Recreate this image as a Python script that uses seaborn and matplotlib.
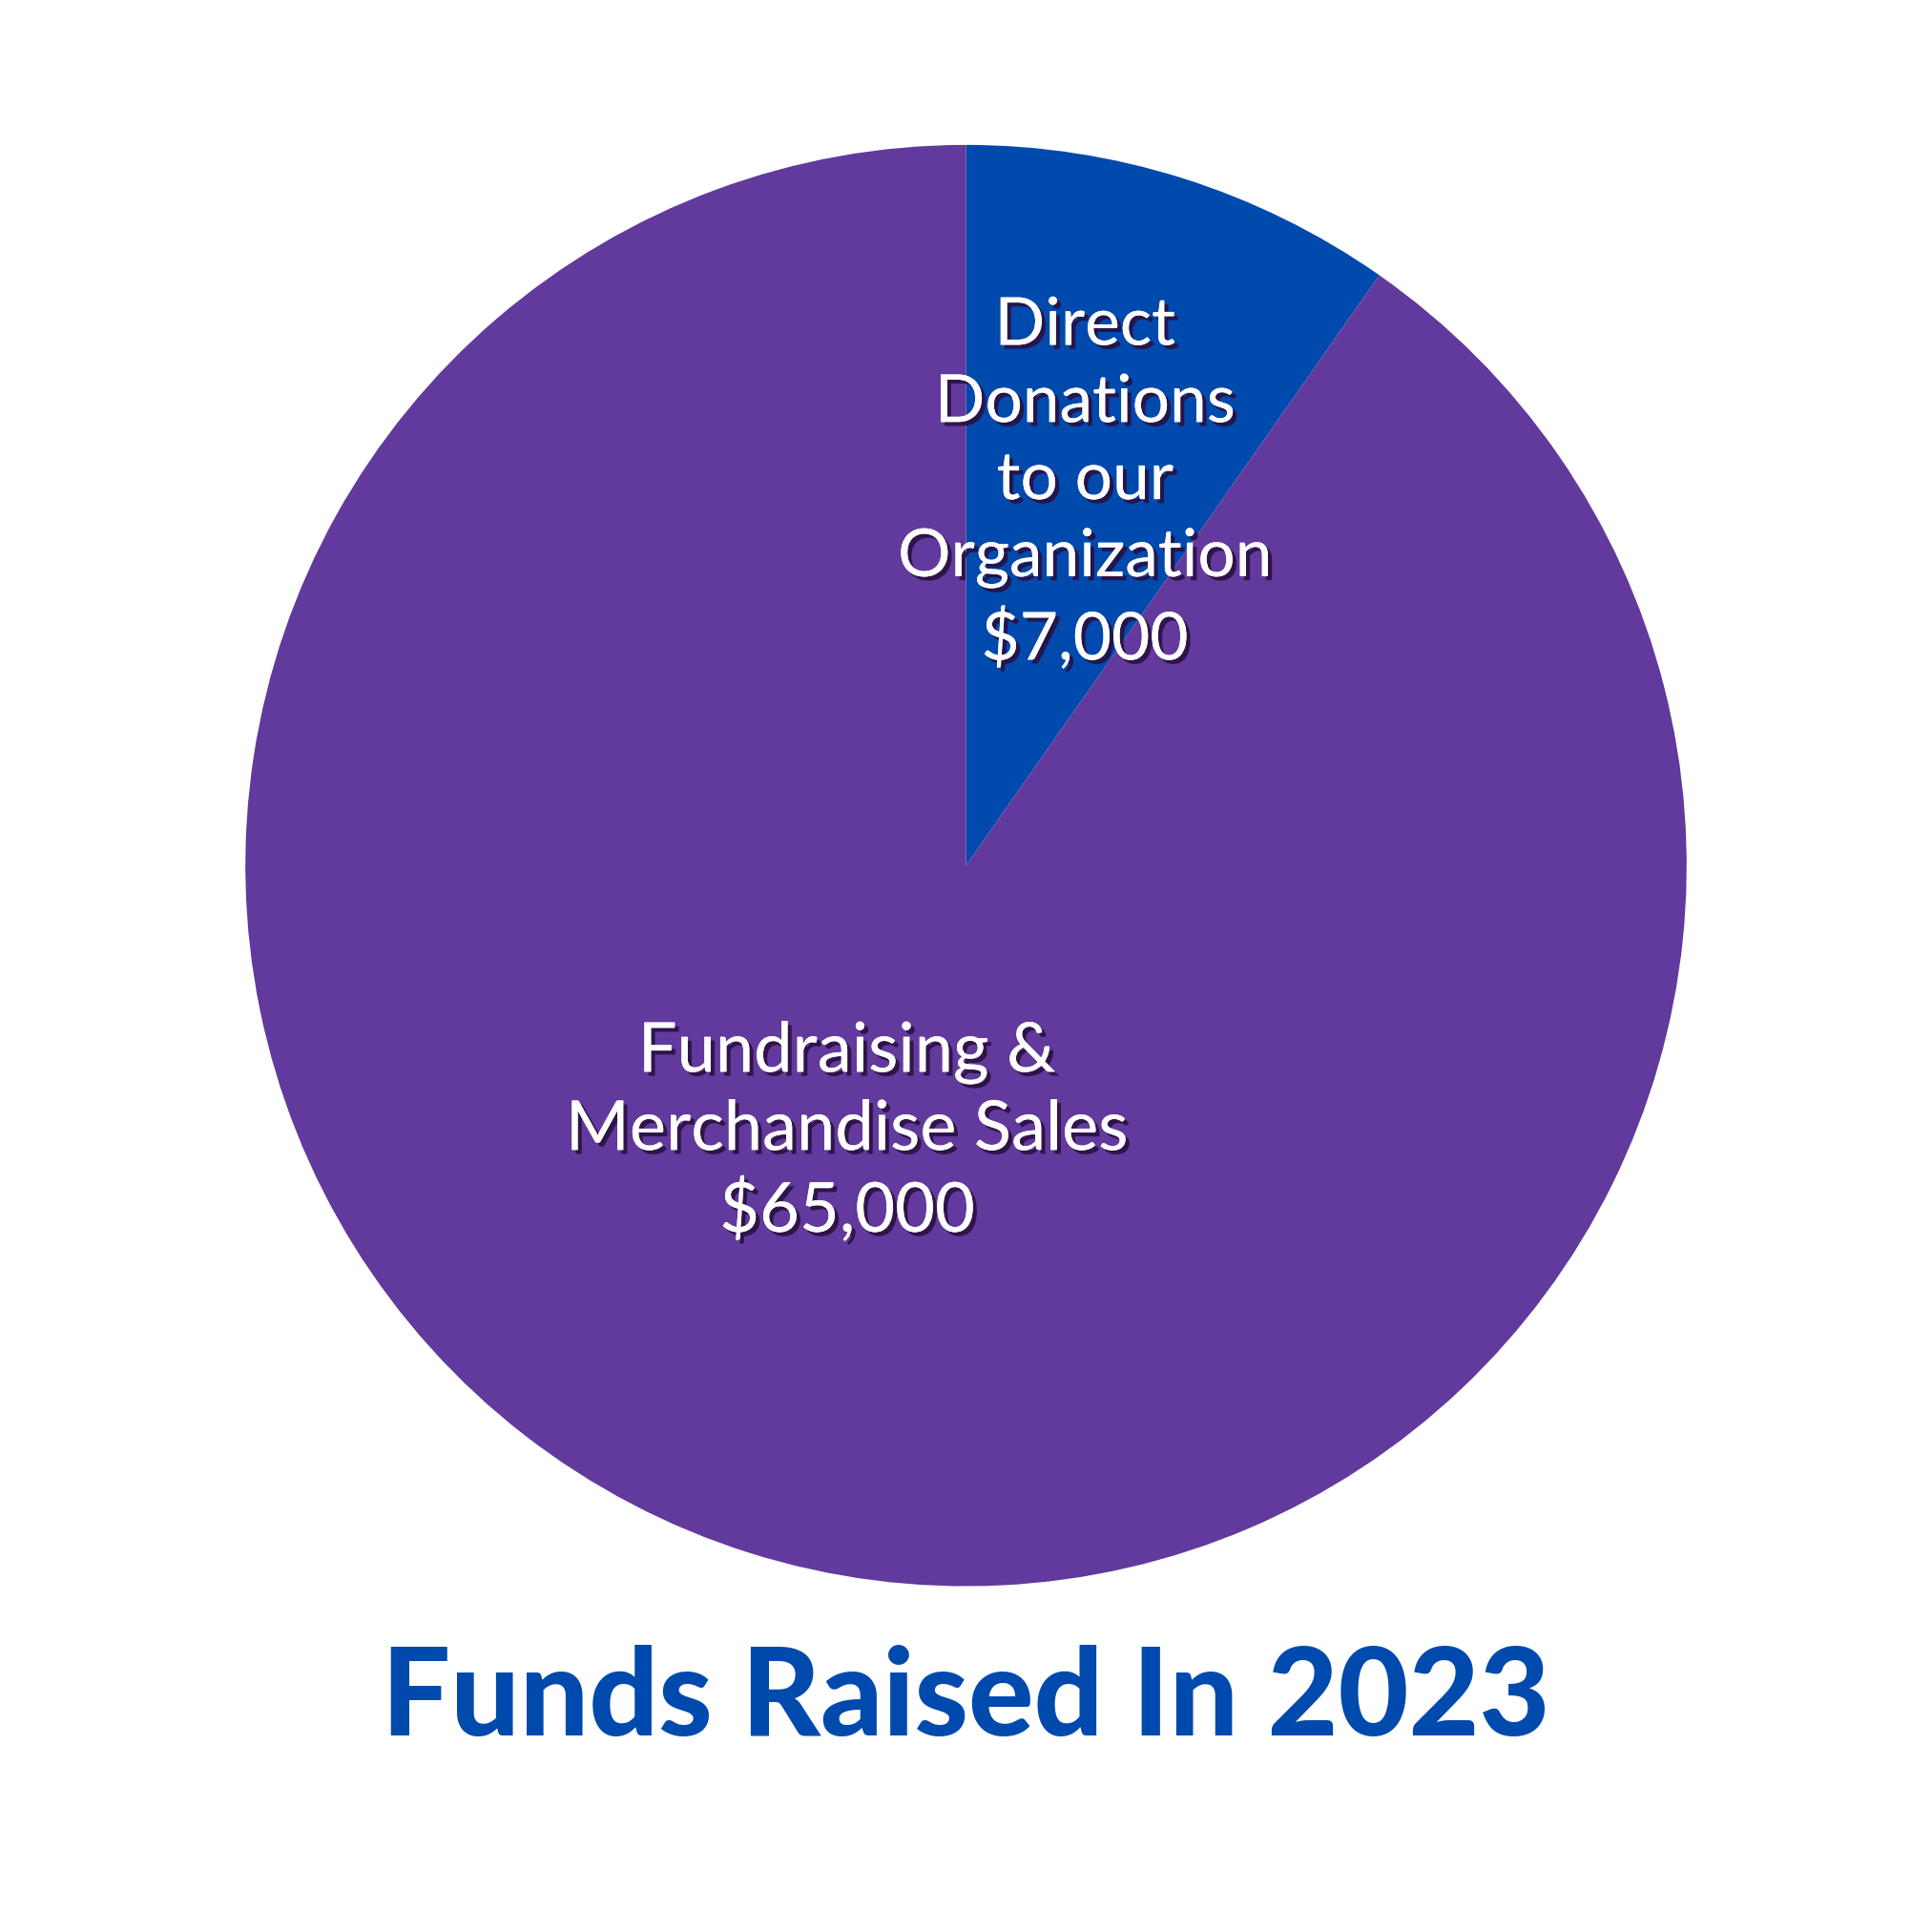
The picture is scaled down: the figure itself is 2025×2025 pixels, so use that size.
import matplotlib
matplotlib.use("Agg")
import matplotlib.pyplot as plt
import matplotlib.patheffects as pe
import seaborn as sns

categories = ["Direct\nDonations\nto our\nOrganization", "Fundraising &\nMerchandise Sales"]
values = [7000, 65000]
colors = ["#0049AD", "#62399D"]
title = "Funds Raised In 2023"

sns.set_theme(style="white")
plt.rcParams['font.family'] = ['Lato', 'DejaVu Sans']

fig = plt.figure(figsize=(20.25, 20.25), dpi=100)
r = 0.373
ax = fig.add_axes([0.5 - r, 0.552 - r, 2 * r, 2 * r])
ax.pie(values, colors=colors, startangle=90, counterclock=False, radius=1,
       wedgeprops=dict(linewidth=0))
ax.set_xlim(-1, 1); ax.set_ylim(-1, 1); ax.set_aspect('equal'); ax.axis('off')

shadow = [pe.withSimplePatchShadow(offset=(3, -3), shadow_rgbFace='#2a1040', alpha=0.9), pe.Normal()]
labels = [f"{categories[0]}\n${values[0]:,}", f"{categories[1]}\n${values[1]:,}"]
ax.text(0.165, 0.53, labels[0], ha='center', va='center', color='white', fontsize=50,
        linespacing=1.35, path_effects=shadow)
ax.text(-0.165, -0.37, labels[1], ha='center', va='center', color='white', fontsize=52,
        linespacing=1.3, path_effects=shadow)

fig.text(0.5, 0.12, title, ha='center', va='center', color='#0049AD', fontsize=92,
         fontweight='black')
fig.savefig("out.png", dpi=100, facecolor='white')
